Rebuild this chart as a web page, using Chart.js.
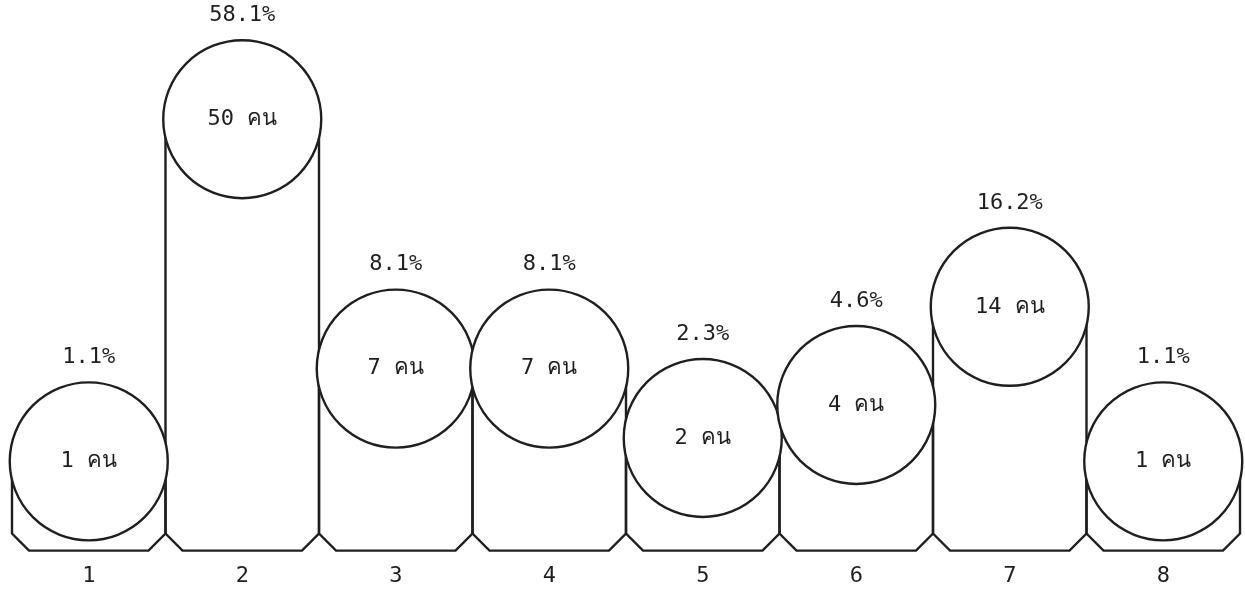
<!DOCTYPE html>
<html>
<head>
<meta charset="utf-8">
<script src="https://cdn.jsdelivr.net/npm/chart.js@4/dist/chart.umd.min.js"></script>
<style>
	html, body { margin: 0; padding: 0; background: #ffffff; }
	#box { width: 1245px; height: 601px; }
</style>
</head>
<body>
<div id="box"><canvas id="chart-area"></canvas></div>
<script>
/*
 * 数据。
 */
var groupLabels = [ '1', '2', '3', '4', '5', '6', '7', '8' ];
var personCounts = [ 1, 50, 7, 7, 2, 4, 14, 1 ];
var percentValues = [ 1.1, 58.1, 8.1, 8.1, 2.3, 4.6, 16.2, 1.1 ];
var unitText = 'คน';

var inkColor = '#1f1f1f';
var textFont = "'DejaVu Sans Mono', 'Liberation Mono', monospace";

/*
 * 平方根刻度：原图柱高大致随人数的平方根增长。
 */
class SqrtScale extends Chart.LinearScale {
	getPixelForValue(value) {
		var o = this.options;
		var t = Math.sqrt(Math.max(+value, 0));
		return this.getPixelForDecimal((t - o.rootMin) / (o.rootMax - o.rootMin));
	}
	getValueForPixel(pixel) {
		var o = this.options;
		var t = o.rootMin + this.getDecimalForPixel(pixel) * (o.rootMax - o.rootMin);
		return t * t;
	}
}
SqrtScale.id = 'sqrt';
Chart.register(SqrtScale);

/*
 * 画带斜角的柱子，以及圆里的文字和百分比。
 */
var shapePlugin = {
	id : 'shapePlugin',
	afterDatasetDraw : function(chart, args) {
		if (args.index != 1) {
			return;
		}
		var ctx = chart.ctx;
		var bottom = chart.chartArea.bottom;
		var cut = 17;
		ctx.save();
		ctx.strokeStyle = inkColor;
		ctx.lineWidth = 2.4;
		args.meta.data.forEach(function(bar) {
			var left = bar.x - bar.width / 2;
			var right = bar.x + bar.width / 2;
			ctx.beginPath();
			ctx.moveTo(left, bar.y);
			ctx.lineTo(left, bottom - cut);
			ctx.lineTo(left + cut, bottom);
			ctx.lineTo(right - cut, bottom);
			ctx.lineTo(right, bottom - cut);
			ctx.lineTo(right, bar.y);
			ctx.stroke();
		});
		ctx.restore();
	},
	afterDatasetsDraw : function(chart) {
		var ctx = chart.ctx;
		var points = chart.getDatasetMeta(0).data;
		ctx.save();
		ctx.fillStyle = inkColor;
		ctx.font = '22px ' + textFont;
		ctx.textAlign = 'center';
		ctx.textBaseline = 'middle';
		for (var i = 0; i < points.length; i++) {
			var p = points[i];
			ctx.fillText(personCounts[i] + ' ' + unitText, p.x, p.y);
			ctx.fillText(percentValues[i].toFixed(1) + '%', p.x, p.y - 104);
		}
		ctx.restore();
	}
};

var config = {
	data : {
		labels : groupLabels,
		datasets : [ {
			type : 'line',
			data : personCounts,
			showLine : false,
			pointRadius : 79,
			pointHoverRadius : 79,
			pointBackgroundColor : '#ffffff',
			pointBorderColor : inkColor,
			pointBorderWidth : 2.4,
			clip : false,
			order : 0
		}, {
			type : 'bar',
			data : personCounts,
			backgroundColor : 'rgba(0,0,0,0)',
			borderWidth : 0,
			barPercentage : 1,
			categoryPercentage : 1,
			order : 1
		} ]
	},
	options : {
		responsive : true,
		maintainAspectRatio : false,
		animation : false,
		events : [],
		layout : {
			autoPadding : false,
			padding : { left : 12, right : 5, top : 0, bottom : 0 }
		},
		plugins : {
			legend : { display : false },
			tooltip : { enabled : false }
		},
		scales : {
			x : {
				grid : { display : false, drawTicks : false },
				border : { display : false },
				ticks : {
					color : inkColor,
					padding : 12,
					font : { family : textFont, size : 22 }
				}
			},
			y : {
				type : 'sqrt',
				display : false,
				min : 0,
				max : 85,
				rootMin : -0.584,
				rootMax : 9.186
			}
		}
	},
	plugins : [ shapePlugin ]
};

window.onload = function() {
	var ctx = document.getElementById('chart-area').getContext('2d');
	window.myChart = new Chart(ctx, config);
};
</script>
</body>
</html>
